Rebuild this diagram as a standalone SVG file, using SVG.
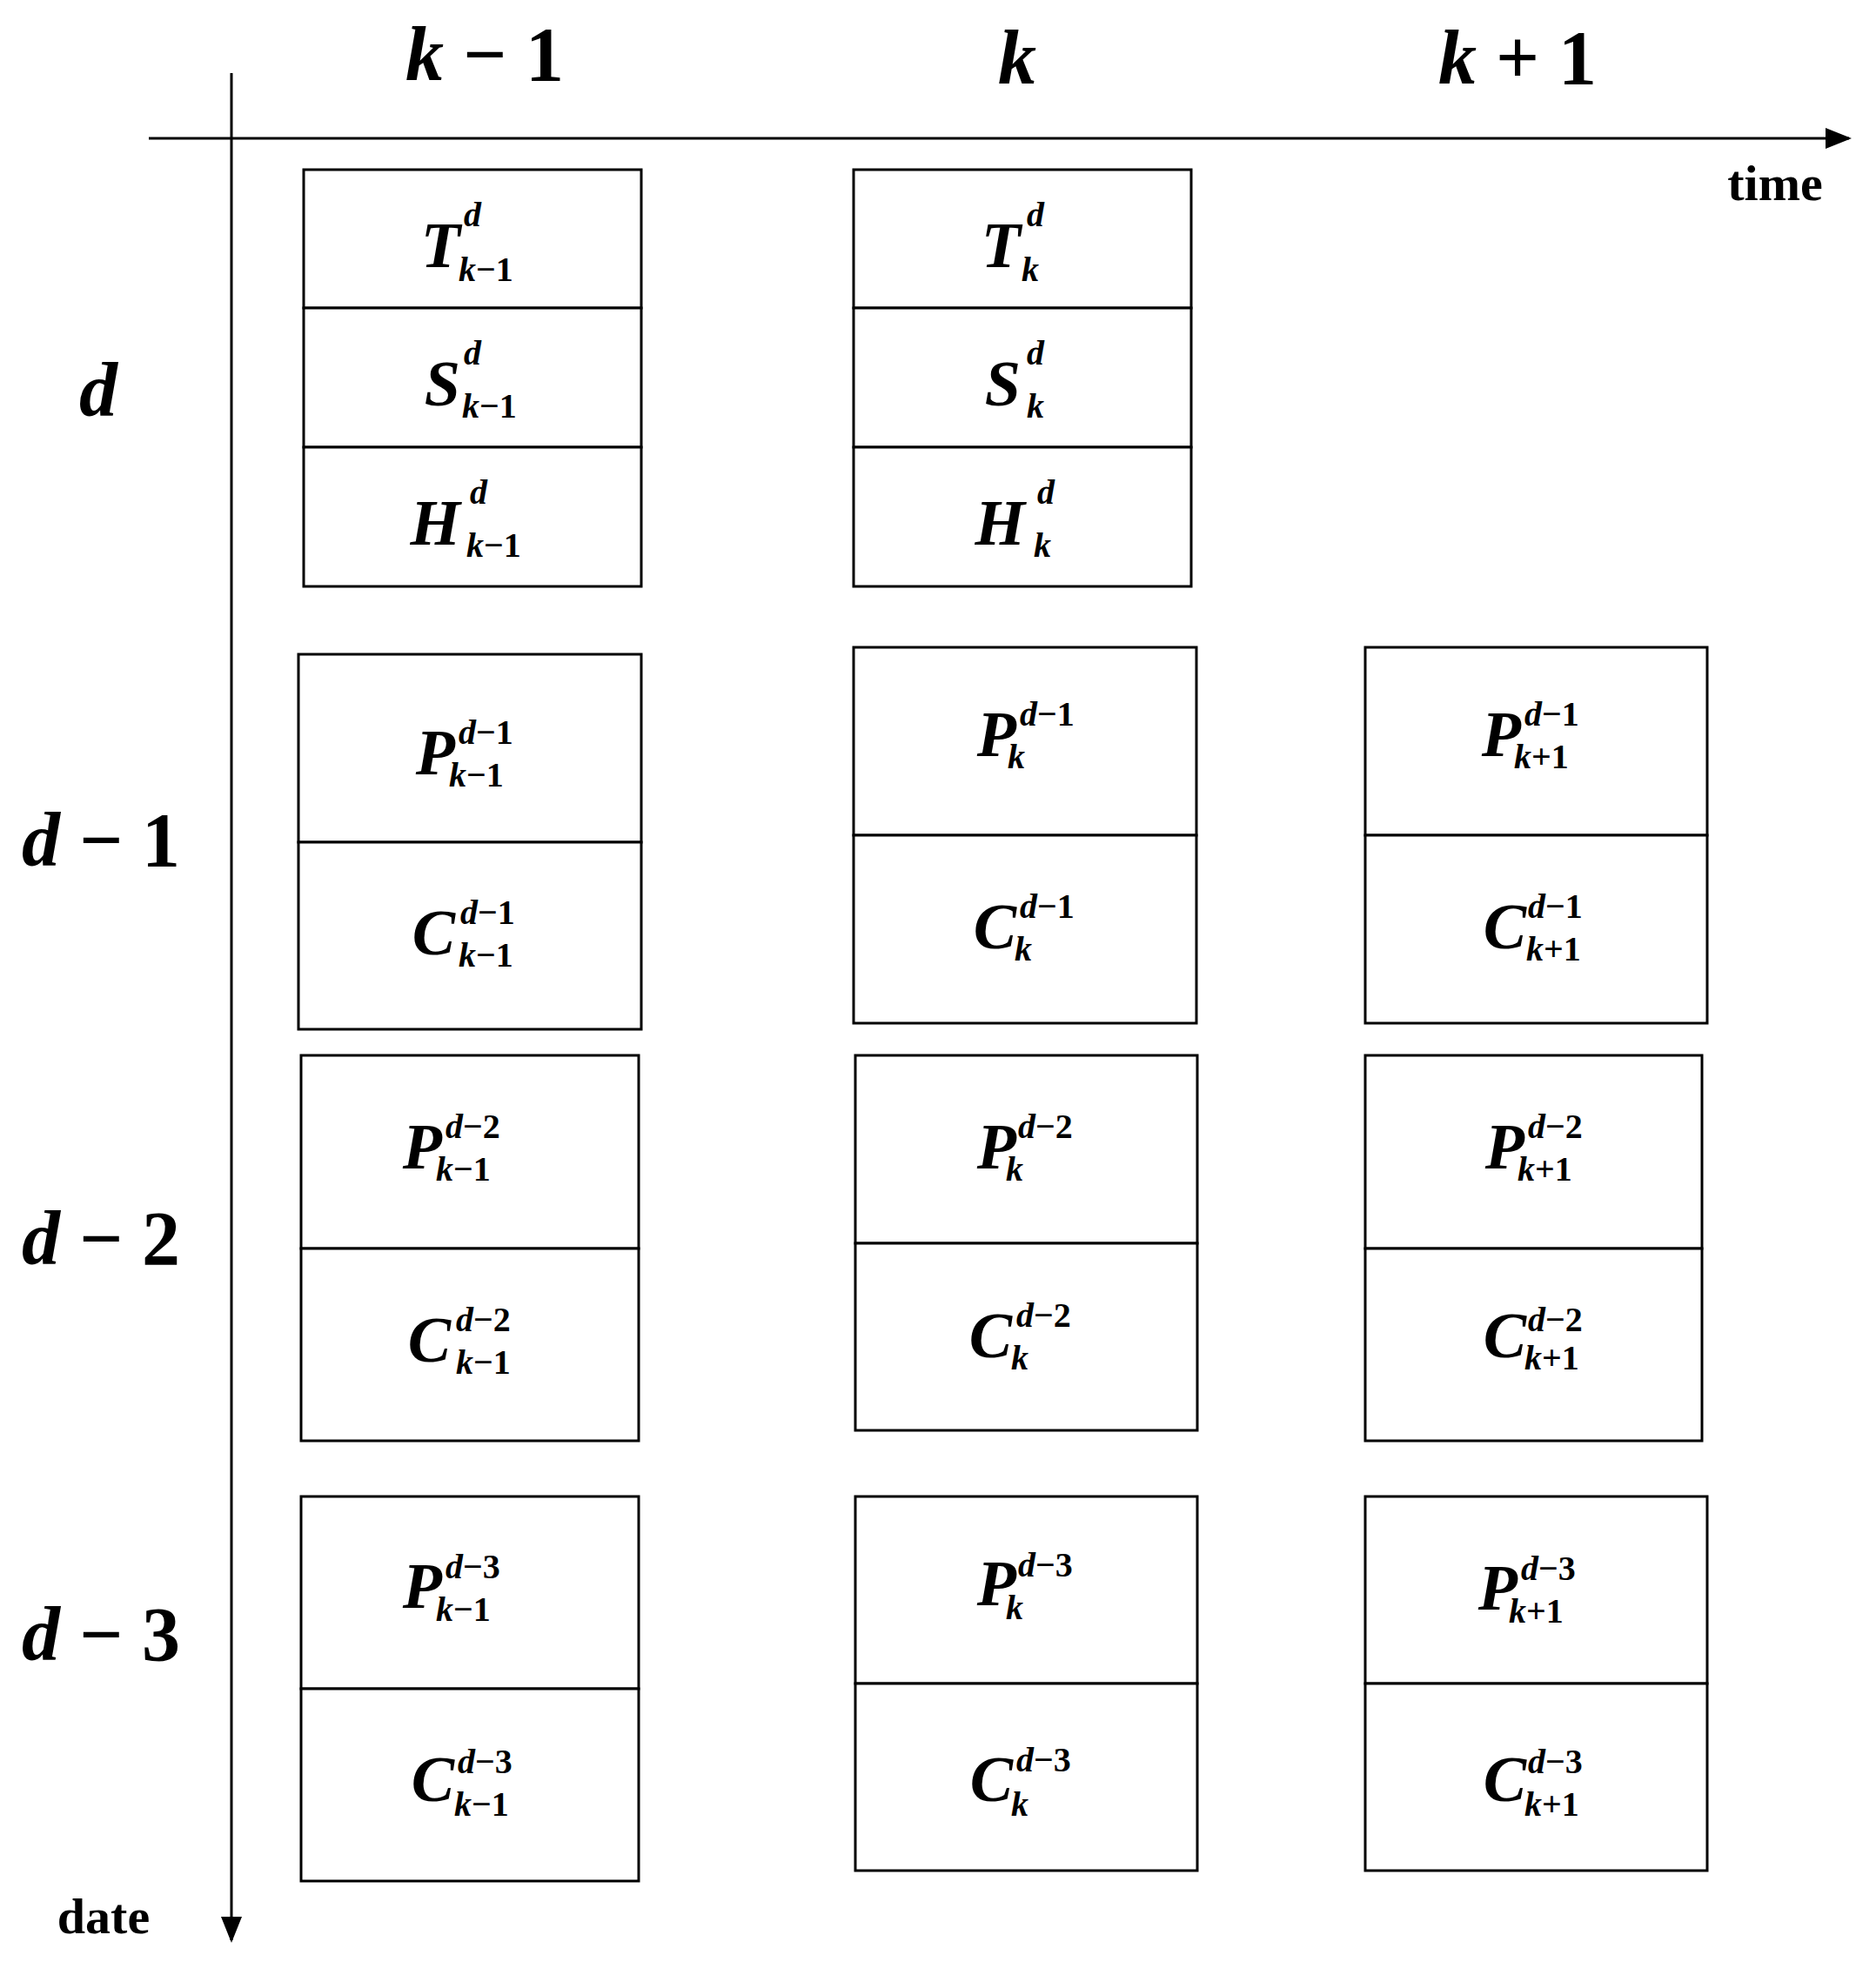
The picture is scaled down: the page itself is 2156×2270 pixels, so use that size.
<svg xmlns="http://www.w3.org/2000/svg" width="2156" height="2270" viewBox="0 0 2156 2270">
<style>
.b{fill:#fff;stroke:#000;stroke-width:3}
.l{stroke:#000;stroke-width:3}
.m{font-family:"Liberation Serif",serif;font-weight:bold;font-style:italic;font-size:74px}
.s{font-family:"Liberation Serif",serif;font-weight:bold;font-style:italic;font-size:40px}
.h{font-family:"Liberation Serif",serif;font-weight:bold;font-style:italic;font-size:88px;text-anchor:middle}
.a{font-family:"Liberation Serif",serif;font-weight:bold;font-size:58px;text-anchor:middle}
.u{font-style:normal}
</style>
<defs><marker id="ar" markerWidth="10" markerHeight="8" refX="9" refY="4" orient="auto" markerUnits="strokeWidth"><path d="M0,0 L10,4 L0,8 z"/></marker></defs>
<g id="connectors">
<line class="l" x1="171" y1="159" x2="2125" y2="159" marker-end="url(#ar)"/>
<line class="l" x1="266" y1="84" x2="266" y2="2230" marker-end="url(#ar)"/>
</g>
<g id="labels">
<text class="h" x="557" y="92">k <tspan class="u">− 1</tspan></text>
<text class="h" x="1169" y="96">k</text>
<text class="h" x="1744" y="96">k <tspan class="u">+ 1</tspan></text>
<text class="a" x="2040" y="230">time</text>
<text class="a" x="119" y="2222">date</text>
<text class="h" x="113" y="478">d</text>
<text class="h" x="116" y="995">d <tspan class="u">− 1</tspan></text>
<text class="h" x="116" y="1453">d <tspan class="u">− 2</tspan></text>
<text class="h" x="116" y="1908">d <tspan class="u">− 3</tspan></text>
</g>
<g id="col1-d">
<rect class="b" x="349" y="195" width="388" height="159"/><rect class="b" x="349" y="354" width="388" height="160"/><rect class="b" x="349" y="514" width="388" height="160"/>
<text class="m" x="529" y="307" text-anchor="end">T</text><text class="s" x="533" y="260">d</text><text class="s" x="527" y="323">k<tspan class="u">−1</tspan></text>
<text class="m" x="529" y="466" text-anchor="end">S</text><text class="s" x="533" y="419">d</text><text class="s" x="531" y="480">k<tspan class="u">−1</tspan></text>
<text class="m" x="529" y="626" text-anchor="end">H</text><text class="s" x="540" y="579">d</text><text class="s" x="536" y="640">k<tspan class="u">−1</tspan></text>
</g>
<g id="col2-d">
<rect class="b" x="981" y="195" width="388" height="159"/><rect class="b" x="981" y="354" width="388" height="160"/><rect class="b" x="981" y="514" width="388" height="160"/>
<text class="m" x="1173" y="307" text-anchor="end">T</text><text class="s" x="1180" y="260">d</text><text class="s" x="1174" y="323">k</text>
<text class="m" x="1173" y="466" text-anchor="end">S</text><text class="s" x="1180" y="419">d</text><text class="s" x="1180" y="480">k</text>
<text class="m" x="1178" y="626" text-anchor="end">H</text><text class="s" x="1192" y="579">d</text><text class="s" x="1188" y="640">k</text>
</g>
<g id="r1c1"><rect class="b" x="343" y="752" width="394" height="216"/><rect class="b" x="343" y="968" width="394" height="215"/>
<text class="m" x="523" y="890" text-anchor="end">P</text><text class="s" x="527" y="855">d<tspan class="u">−1</tspan></text><text class="s" x="516" y="904">k<tspan class="u">−1</tspan></text>
<text class="m" x="523" y="1097" text-anchor="end">C</text><text class="s" x="529" y="1062">d<tspan class="u">−1</tspan></text><text class="s" x="527" y="1111">k<tspan class="u">−1</tspan></text></g>
<g id="r1c2"><rect class="b" x="981" y="744" width="394" height="216"/><rect class="b" x="981" y="960" width="394" height="216"/>
<text class="m" x="1168" y="869" text-anchor="end">P</text><text class="s" x="1172" y="834">d<tspan class="u">−1</tspan></text><text class="s" x="1158" y="883">k</text>
<text class="m" x="1168" y="1090" text-anchor="end">C</text><text class="s" x="1172" y="1055">d<tspan class="u">−1</tspan></text><text class="s" x="1166" y="1104">k</text></g>
<g id="r1c3"><rect class="b" x="1569" y="744" width="393" height="216"/><rect class="b" x="1569" y="960" width="393" height="216"/>
<text class="m" x="1748" y="869" text-anchor="end">P</text><text class="s" x="1752" y="834">d<tspan class="u">−1</tspan></text><text class="s" x="1740" y="883">k<tspan class="u">+1</tspan></text>
<text class="m" x="1754" y="1090" text-anchor="end">C</text><text class="s" x="1756" y="1055">d<tspan class="u">−1</tspan></text><text class="s" x="1754" y="1104">k<tspan class="u">+1</tspan></text></g>
<g id="r2c1"><rect class="b" x="346" y="1213" width="388" height="222"/><rect class="b" x="346" y="1435" width="388" height="221"/>
<text class="m" x="508" y="1343" text-anchor="end">P</text><text class="s" x="512" y="1308">d<tspan class="u">−2</tspan></text><text class="s" x="501" y="1357">k<tspan class="u">−1</tspan></text>
<text class="m" x="518" y="1565" text-anchor="end">C</text><text class="s" x="524" y="1530">d<tspan class="u">−2</tspan></text><text class="s" x="524" y="1579">k<tspan class="u">−1</tspan></text></g>
<g id="r2c2"><rect class="b" x="983" y="1213" width="393" height="216"/><rect class="b" x="983" y="1429" width="393" height="215"/>
<text class="m" x="1168" y="1343" text-anchor="end">P</text><text class="s" x="1170" y="1308">d<tspan class="u">−2</tspan></text><text class="s" x="1156" y="1357">k</text>
<text class="m" x="1163" y="1560" text-anchor="end">C</text><text class="s" x="1168" y="1525">d<tspan class="u">−2</tspan></text><text class="s" x="1162" y="1574">k</text></g>
<g id="r2c3"><rect class="b" x="1569" y="1213" width="387" height="222"/><rect class="b" x="1569" y="1435" width="387" height="221"/>
<text class="m" x="1752" y="1343" text-anchor="end">P</text><text class="s" x="1756" y="1308">d<tspan class="u">−2</tspan></text><text class="s" x="1744" y="1357">k<tspan class="u">+1</tspan></text>
<text class="m" x="1754" y="1560" text-anchor="end">C</text><text class="s" x="1756" y="1530">d<tspan class="u">−2</tspan></text><text class="s" x="1752" y="1574">k<tspan class="u">+1</tspan></text></g>
<g id="r3c1"><rect class="b" x="346" y="1720" width="388" height="221"/><rect class="b" x="346" y="1941" width="388" height="221"/>
<text class="m" x="508" y="1848" text-anchor="end">P</text><text class="s" x="512" y="1814">d<tspan class="u">−3</tspan></text><text class="s" x="501" y="1863">k<tspan class="u">−1</tspan></text>
<text class="m" x="522" y="2070" text-anchor="end">C</text><text class="s" x="526" y="2038">d<tspan class="u">−3</tspan></text><text class="s" x="522" y="2087">k<tspan class="u">−1</tspan></text></g>
<g id="r3c2"><rect class="b" x="983" y="1720" width="393" height="215"/><rect class="b" x="983" y="1935" width="393" height="215"/>
<text class="m" x="1168" y="1845" text-anchor="end">P</text><text class="s" x="1170" y="1812">d<tspan class="u">−3</tspan></text><text class="s" x="1156" y="1861">k</text>
<text class="m" x="1164" y="2070" text-anchor="end">C</text><text class="s" x="1168" y="2036">d<tspan class="u">−3</tspan></text><text class="s" x="1162" y="2087">k</text></g>
<g id="r3c3"><rect class="b" x="1569" y="1720" width="393" height="215"/><rect class="b" x="1569" y="1935" width="393" height="215"/>
<text class="m" x="1744" y="1850" text-anchor="end">P</text><text class="s" x="1748" y="1816">d<tspan class="u">−3</tspan></text><text class="s" x="1734" y="1865">k<tspan class="u">+1</tspan></text>
<text class="m" x="1754" y="2070" text-anchor="end">C</text><text class="s" x="1756" y="2038">d<tspan class="u">−3</tspan></text><text class="s" x="1752" y="2087">k<tspan class="u">+1</tspan></text></g>
</svg>
